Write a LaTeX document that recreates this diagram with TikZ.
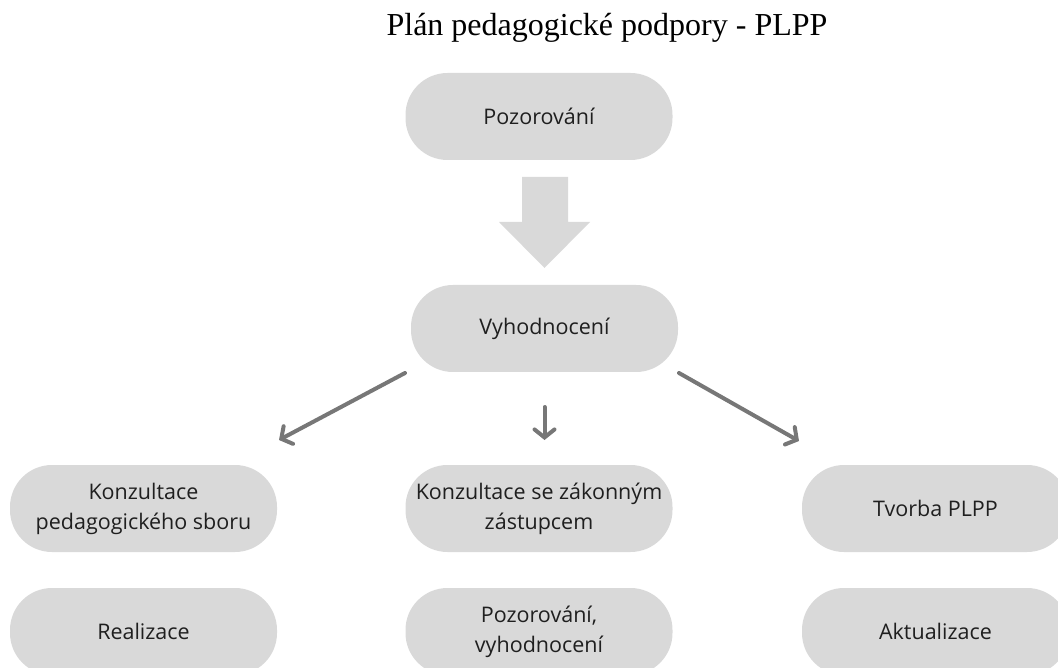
\documentclass[tikz,border=0pt]{standalone}
\usepackage{fontspec}
\setmainfont{Liberation Serif}
\newfontfamily\boxfont{Open Sans}
\usetikzlibrary{arrows.meta}
\definecolor{boxgray}{HTML}{D9D9D9}
\definecolor{arrgray}{HTML}{777777}
\definecolor{txt}{HTML}{1F1F1F}
\tikzset{
  pill/.style={fill=boxgray, draw=none, rounded corners=42pt, minimum width=267pt, minimum height=87pt,
    inner sep=0pt, align=center, text=txt, font=\boxfont\fontsize{21.5}{30}\selectfont},
  conn/.style={draw=arrgray, line width=4pt, line cap=round,
    -{Straight Barb[length=8pt, width=20pt, line width=4pt, line cap=round]}},
  blockarrow/.style={fill=boxgray, draw=none}
}
\begin{document}
\begin{tikzpicture}[x=1pt,y=-1pt]
\useasboundingbox (0,0) rectangle (1058,668);
\clip (0,0) rectangle (1058,668);
\node[anchor=base, font=\fontsize{32}{38}\selectfont] (title) at (607,36) {Plán pedagogické podpory - PLPP};
\node[pill] (poz) at (539,116.5) {Pozorování};
\node[pill] (vyh) at (544.5,328.5) {Vyhodnocení};
\node[pill] (kps) at (143.5,508.5) {Konzultace\\pedagogického sboru};
\node[pill] (kzz) at (539,508.5) {Konzultace se zákonným\\zástupcem};
\node[pill] (tvo) at (935.5,508.5) {Tvorba PLPP};
\node[pill] (rea) at (143.5,631.5) {Realizace};
\node[pill] (pvy) at (539,631.5) {Pozorování,\\vyhodnocení};
\node[pill] (akt) at (935.5,631.5) {Aktualizace};
% block arrow
\path[blockarrow] (522,177) -- (568,177) -- (568,222) -- (590,222) -- (544.5,268) -- (499,222) -- (522,222) -- cycle;
% connectors
\coordinate (ls) at (405,373);
\coordinate (le) at (279,440);
\coordinate (ms) at (544.5,407);
\coordinate (me) at (544.5,440);
\coordinate (rs) at (679,373);
\coordinate (re) at (799,441);
\draw[conn] (ls) -- (le);
\draw[conn] (ms) -- (me);
\draw[conn] (rs) -- (re);
\end{tikzpicture}
\end{document}
